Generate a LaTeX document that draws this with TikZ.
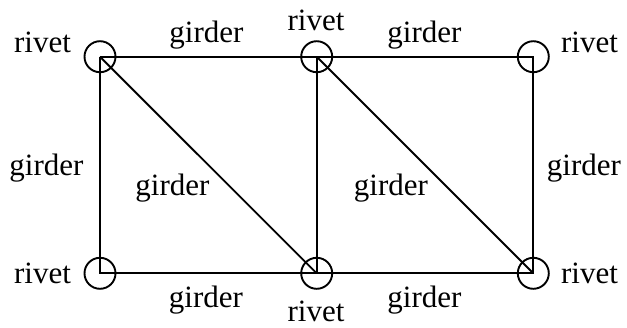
\documentclass[tikz,border=0pt]{standalone}
\usepackage{fontspec}
\setmainfont{Liberation Serif}
\begin{document}
\begin{tikzpicture}[x=1pt,y=-1pt,
  rivetc/.style={circle,draw,line width=1.9pt,minimum size=31pt,inner sep=0pt},
  bar/.style={line width=1.9pt},
  lbl/.style={anchor=base,inner sep=0pt,font=\fontsize{31}{36}\selectfont}]
\useasboundingbox (0,0) rectangle (627,327);
\node[rivetc] (tl) at (100,56.7) {};
\node[rivetc] (tm) at (316.7,56.7) {};
\node[rivetc] (tr) at (533.3,56.7) {};
\node[rivetc] (bl) at (100,273.3) {};
\node[rivetc] (bm) at (316.7,273.3) {};
\node[rivetc] (br) at (533.3,273.3) {};
\draw[bar] (tl.center) -- (tm.center) -- (tr.center) -- (br.center) -- (bm.center) -- (bl.center) -- (tl.center);
\draw[bar] (tm.center) -- (bm.center);
\draw[bar] (tl.center) -- (bm.center);
\draw[bar] (tm.center) -- (br.center);
\node[lbl] (r1) at (42.5,52) {rivet};
\node[lbl] (r2) at (316,30) {rivet};
\node[lbl] (r3) at (589.5,52) {rivet};
\node[lbl] (r4) at (42.5,283) {rivet};
\node[lbl] (r5) at (316,321) {rivet};
\node[lbl] (r6) at (589.5,283) {rivet};
\node[lbl] (g1) at (206.5,42) {girder};
\node[lbl] (g2) at (424.5,42) {girder};
\node[lbl] (g3) at (46.5,175) {girder};
\node[lbl] (g4) at (172.5,195) {girder};
\node[lbl] (g5) at (391,195) {girder};
\node[lbl] (g6) at (584,175) {girder};
\node[lbl] (g7) at (206,307) {girder};
\node[lbl] (g8) at (424.5,307) {girder};
\end{tikzpicture}
\end{document}
